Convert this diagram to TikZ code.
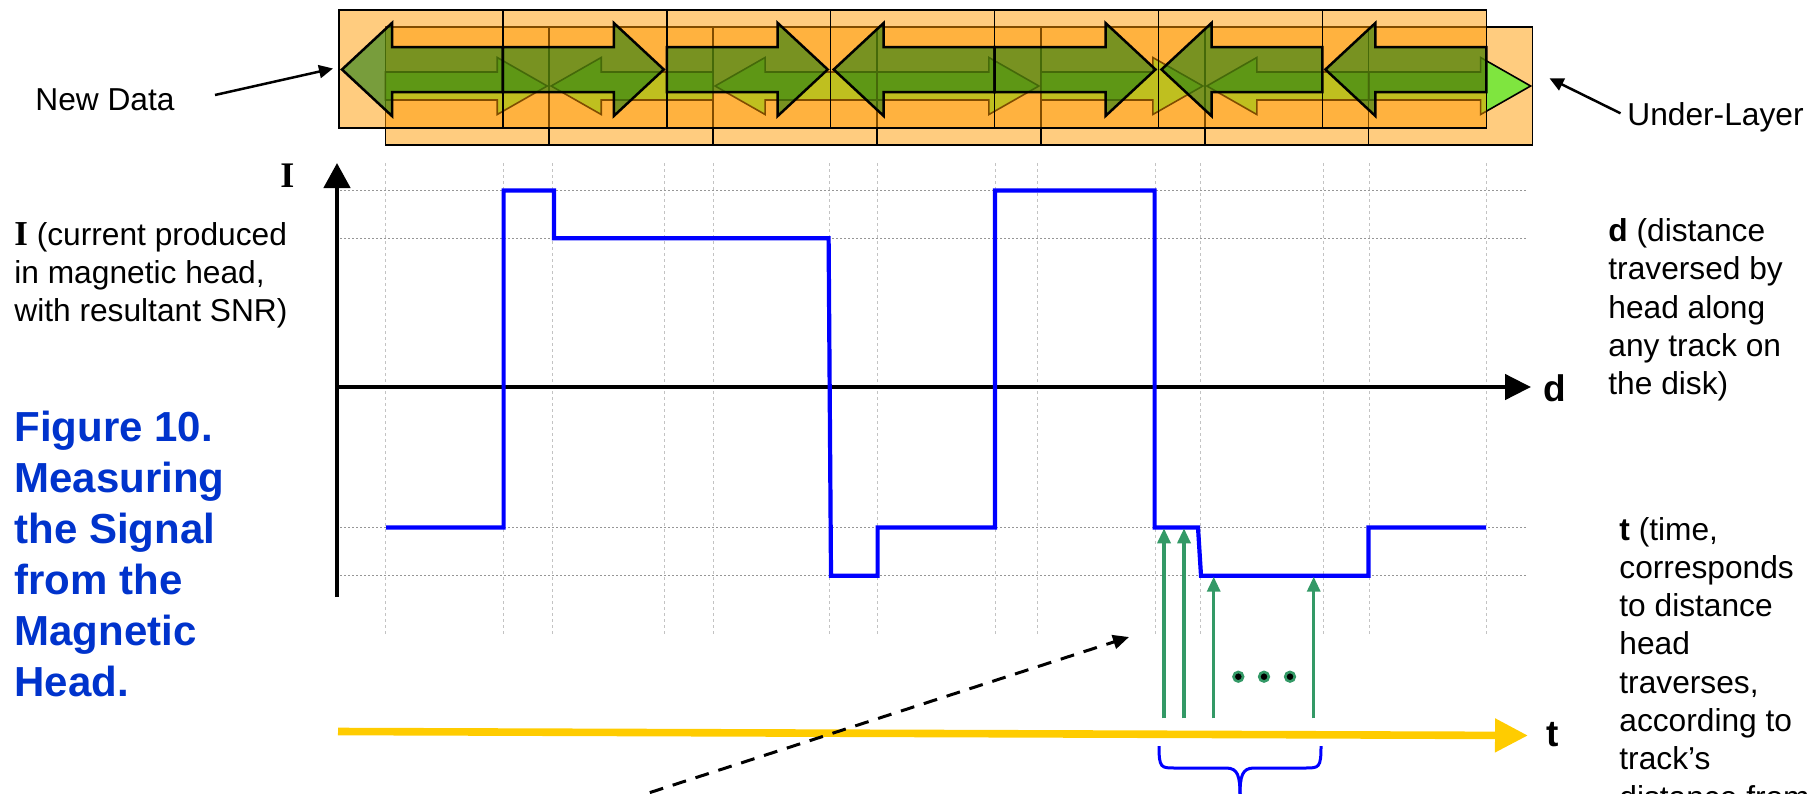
\documentclass[tikz,border=0pt]{standalone}
\usepackage{fontspec}
\setmainfont{Liberation Sans}
\newfontfamily\serifI{Liberation Serif}
\usetikzlibrary{arrows.meta}
\definecolor{orng}{RGB}{255,153,0}
\definecolor{gnew}{RGB}{30,125,15}
\definecolor{gund}{RGB}{0,255,0}
\definecolor{seagrn}{RGB}{51,153,102}
\definecolor{ttl}{RGB}{0,51,204}
\definecolor{ylw}{RGB}{255,204,0}
\definecolor{gridv}{RGB}{195,195,195}
\definecolor{gridh}{RGB}{150,150,150}
\definecolor{trace}{RGB}{0,0,255}
\newcommand{\hdarrow}[7]{\path[#1] (#2,{#4-#6}) -- ({#3-(#7)},{#4-#6}) -- ({#3-(#7)},{#4-#5}) -- (#3,#4) -- ({#3-(#7)},{#4+#5}) -- ({#3-(#7)},{#4+#6}) -- (#2,{#4+#6}) -- cycle;}
\tikzset{
  rowbox/.style={fill=orng, fill opacity=0.5, draw=black, line width=0.75pt},
  undarrow/.style={fill=gund, fill opacity=0.5, draw=black, line width=0.8pt, line join=miter},
  newarrow/.style={fill=gnew, fill opacity=0.6, draw=black, line width=1.25pt, line join=miter},
  body/.style={font=\fontsize{15.85}{19}\selectfont, inner sep=0pt, anchor=base west},
  ttlst/.style={font=\bfseries\fontsize{21}{25}\selectfont, text=ttl, inner sep=0pt, anchor=base west},
  axlab/.style={font=\bfseries\fontsize{18.5}{20}\selectfont, inner sep=0pt, anchor=base west},
  gridvl/.style={gridv, line width=0.5pt, dash pattern=on 1.5pt off 1.5pt},
  gridhl/.style={gridh, line width=0.5pt, dash pattern=on 1pt off 1pt},
  pointer/.style={black, line width=1.25pt, -{Triangle[length=7pt,width=6.5pt]}},
  sample/.style={seagrn, line width=1.65pt, -{Triangle[length=7.5pt,width=6.5pt]}}
}
\begin{document}
\begin{tikzpicture}[x=0.5pt,y=-0.5pt]
\useasboundingbox (0,0) rectangle (1814,793);
\clip (0,0) rectangle (1814,793);
% ---------- track bar ----------
\foreach \k in {0,...,6} \path[rowbox] ({385.3+163.9*\k},27) rectangle ({385.3+163.9*(\k+1)},145);
% under-layer arrows: R L L R R L R
\hdarrow{undarrow}{385.3}{547.2}{86}{28.5}{14}{50}
\hdarrow{undarrow}{713.1}{551.2}{86}{28.5}{14}{-50}
\hdarrow{undarrow}{877}{715.1}{86}{28.5}{14}{-50}
\hdarrow{undarrow}{877}{1038.9}{86}{28.5}{14}{50}
\hdarrow{undarrow}{1040.9}{1202.8}{86}{28.5}{14}{50}
\hdarrow{undarrow}{1368.7}{1206.8}{86}{28.5}{14}{-50}
\hdarrow{undarrow}{1368.7}{1530.6}{86}{28.5}{14}{50}
\foreach \k in {0,...,6} \path[rowbox] ({339+163.9*\k},10) rectangle ({339+163.9*(\k+1)},128);
% new data arrows: L R R L R L L
\hdarrow{newarrow}{502.9}{342}{69.5}{46.5}{22.5}{-50}
\hdarrow{newarrow}{502.9}{663.8}{69.5}{46.5}{22.5}{50}
\hdarrow{newarrow}{666.8}{827.7}{69.5}{46.5}{22.5}{50}
\hdarrow{newarrow}{994.6}{833.7}{69.5}{46.5}{22.5}{-50}
\hdarrow{newarrow}{994.6}{1155.5}{69.5}{46.5}{22.5}{50}
\hdarrow{newarrow}{1322.4}{1161.5}{69.5}{46.5}{22.5}{-50}
\hdarrow{newarrow}{1486.3}{1325.4}{69.5}{46.5}{22.5}{-50}
% labels of the bar
\node[body] (nd) at (35,110.7) {New Data};
\coordinate (ndTail) at (215,95);
\coordinate (ndTip) at (333,68.5);
\draw[pointer] (ndTail) -- (ndTip);
\node[body] (ul) at (1627,125) {Under-Layer};
\coordinate (ulTail) at (1620.5,113.3);
\coordinate (ulTip) at (1549.5,78.3);
\draw[pointer] (ulTail) -- (ulTip);
% ---------- grid ----------
\foreach \x in {385,503,552,664,713,829,877,995,1037,1155,1200,1323,1369,1486}
  \draw[gridvl] (\x,163) -- (\x,637);
\foreach \y in {190.5,238.3,527.5,575.7}
  \draw[gridhl] (340,\y) -- (1528,\y);
% ---------- axes ----------
\coordinate (Ibot) at (337,597);
\coordinate (Itop) at (337,163);
\coordinate (dL) at (337,387);
\coordinate (dR) at (1531,387);
\draw[line width=2.3pt, -{Triangle[length=12.5pt,width=13pt]}] (Ibot) -- (Itop);
\draw[line width=2.3pt, -{Triangle[length=13pt,width=12.5pt]}] (dL) -- (dR);
\node[axlab, font=\serifI\bfseries\fontsize{18}{20}\selectfont] (Ilab) at (280,187) {I};
\node[axlab] (dlab) at (1543,401.5) {d};
% ---------- signal ----------
\draw[trace, line width=2.1pt, line join=miter]
  (386,527.5) -- (503.6,527.5) -- (503.6,190.5) -- (554,190.5) -- (554,238.3)
  -- (828.6,238.3) -- (831,575.7) -- (877.6,575.7) -- (877.6,527.5) -- (995,527.5)
  -- (995,190.5) -- (1154.6,190.5) -- (1154.6,527.5) -- (1198,527.5) -- (1201,575.7)
  -- (1368.5,575.7) -- (1368.5,527.5) -- (1486,527.5);
% ---------- time axis ----------
\coordinate (tL) at (338,731.5);
\coordinate (tR) at (1528,735.5);
\draw[ylw, line width=3.8pt, -{Triangle[length=16.5pt,width=16pt]}] (tL) -- (tR);
\node[axlab] (tlab) at (1546,746) {t};
% ---------- samples ----------
\coordinate (s1b) at (1164,718.3);   \coordinate (s1t) at (1164,528.3);
\coordinate (s2b) at (1184,718.3);   \coordinate (s2t) at (1184,528.3);
\coordinate (s3b) at (1213.7,718.3); \coordinate (s3t) at (1213.7,576.7);
\coordinate (s4b) at (1313.7,718.3); \coordinate (s4t) at (1313.7,576.7);
\draw[sample] (s1b) -- (s1t);
\draw[sample] (s2b) -- (s2t);
\draw[sample] (s3b) -- (s3t);
\draw[sample] (s4b) -- (s4t);
\foreach \x in {1238.3,1264,1290}
  \draw[seagrn, fill=black, line width=1.3pt] (\x,676.7) circle[radius=2.4pt];
% brace
\draw[trace, line width=1.5pt]
  (1159,746) .. controls (1159,768) and (1161,768) .. (1175,768) -- (1226,768)
  .. controls (1238,768) and (1240,776) .. (1240,796);
\draw[trace, line width=1.5pt]
  (1321,746) .. controls (1321,768) and (1319,768) .. (1305,768) -- (1254,768)
  .. controls (1242,768) and (1240,776) .. (1240,796);
% dashed pointer
\coordinate (dsS) at (627,800);
\coordinate (dsE) at (1129,637);
\draw[black, line width=1.5pt, dash pattern=on 7pt off 5pt, -{Triangle[length=8pt,width=7pt]}] (dsS) -- (dsE);
% ---------- left texts ----------
\node[body] (l1) at (14,245) {{\serifI\bfseries\fontsize{17.5}{19}\selectfont I} (current produced};
\node[body] (l2) at (14,283) {in magnetic head,};
\node[body] (l3) at (14,321) {with resultant SNR)};
\node[ttlst] (f1) at (14,441.7) {Figure 10.};
\node[ttlst] (f2) at (14,492.7) {Measuring};
\node[ttlst] (f3) at (14,543.7) {the Signal};
\node[ttlst] (f4) at (14,594.7) {from the};
\node[ttlst] (f5) at (14,645.7) {Magnetic};
\node[ttlst] (f6) at (14,696.7) {Head.};
% ---------- right texts ----------
\node[body] (d1) at (1608,241.6) {{\bfseries d} (distance};
\node[body] (d2) at (1608,279.8) {traversed by};
\node[body] (d3) at (1608,318) {head along};
\node[body] (d4) at (1608,356.2) {any track on};
\node[body] (d5) at (1608,394.4) {the disk)};
\node[body] (t1) at (1619,540) {{\bfseries t} (time,};
\node[body] (t2) at (1619,578.3) {corresponds};
\node[body] (t3) at (1619,616.6) {to distance};
\node[body] (t4) at (1619,654.9) {head};
\node[body] (t5) at (1619,693.2) {traverses,};
\node[body] (t6) at (1619,731.5) {according to};
\node[body] (t7) at (1619,769.8) {track’s};
\node[body] (t8) at (1619,808.1) {distance from};
\end{tikzpicture}
\end{document}
